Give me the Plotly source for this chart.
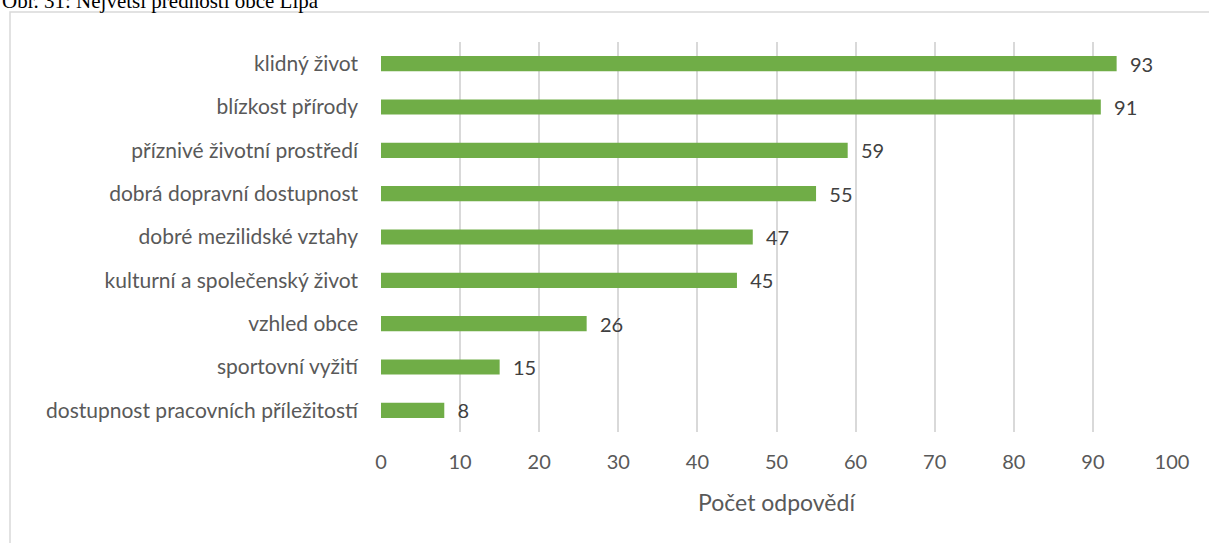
import plotly.graph_objects as go

# Obr. 31: greatest advantages of the village
kategorie = [
    "klidný život",
    "blízkost přírody",
    "příznivé životní prostředí",
    "dobrá dopravní dostupnost",
    "dobré mezilidské vztahy",
    "kulturní a společenský život",
    "vzhled obce",
    "sportovní vyžití",
    "dostupnost pracovních příležitostí",
]
pocty = [93, 91, 59, 55, 47, 45, 26, 15, 8]
x_ticks = [0, 10, 20, 30, 40, 50, 60, 70, 80, 90, 100]

W, H = 1209, 543
L, R, T, B = 381, 37, 42, 111
pw, ph = W - L - R, H - T - B

def px_x(p):
    return (p - L) / pw

def px_y(p):
    return (H - B - p) / ph

FONT = "Lato, 'Open Sans', sans-serif"

fig = go.Figure(go.Bar(
    x=pocty, y=kategorie, orientation="h",
    marker=dict(color="#70AD47", line=dict(width=0)),
    width=0.35,
    text=pocty, texttemplate="  %{x}", textposition="outside",
    textfont=dict(family=FONT, size=20, color="#404040"),
    constraintext="none",
    cliponaxis=False,
))

fig.update_layout(
    width=W, height=H,
    margin=dict(l=L, r=R, t=T, b=B),
    paper_bgcolor="white", plot_bgcolor="white",
    showlegend=False,
    font=dict(family=FONT, color="#595959"),
    xaxis=dict(range=[0, 100], tickvals=x_ticks, showgrid=True, gridcolor="#D9D9D9", gridwidth=1.5,
               zeroline=False, showline=False, ticks="", tickfont=dict(size=20, color="#595959"),
               ticklabelstandoff=16, automargin=False,
               title=dict(text="Počet odpovědí", font=dict(size=23, color="#595959"), standoff=22)),
    yaxis=dict(autorange="reversed", showgrid=False, zeroline=False, showline=False, ticks="",
               tickfont=dict(size=21, color="#595959"), ticklabelstandoff=22, automargin=False),
    bargap=0.65,
)

# outer frame of the embedded chart
fig.add_shape(type="rect", xref="paper", yref="paper",
              x0=px_x(10), x1=px_x(1260), y0=px_y(600), y1=px_y(12),
              line=dict(color="#D9D9D9", width=1.5), fillcolor="rgba(0,0,0,0)", layer="below")

# caption clipped at top edge (as in the source scan)
fig.add_annotation(text="Obr. 31: Největší přednosti obce Lípa", xref="paper", yref="paper",
                   x=px_x(0), y=px_y(-13), xanchor="left", yanchor="top", showarrow=False,
                   font=dict(family="'Liberation Serif', 'Times New Roman', serif", size=21, color="black"))

fig.write_html("out.html", config={"displayModeBar": False},
               post_script="document.body.style.margin='0';")
